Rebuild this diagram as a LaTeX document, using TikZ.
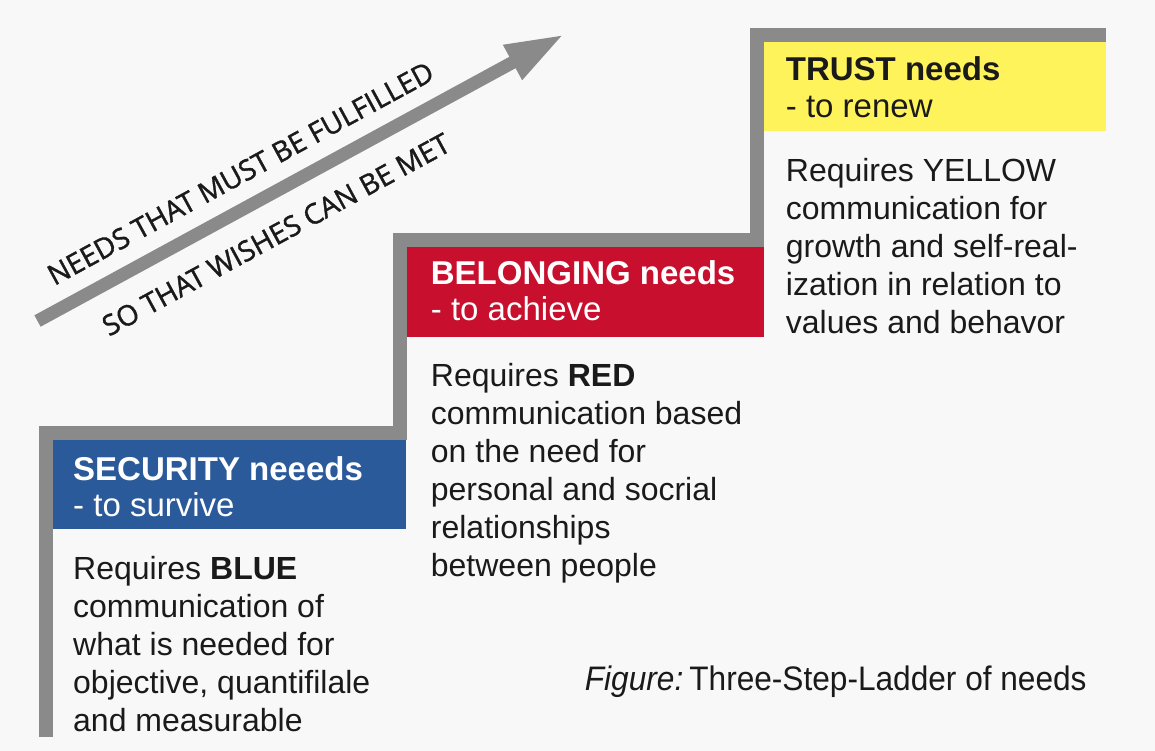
\documentclass[tikz,border=0pt]{standalone}
\usepackage{fontspec}
\usepackage{graphicx}
\setmainfont{Liberation Sans}
\newfontfamily\arrowfont{Open Sans}[FakeBold=1.3]
\usetikzlibrary{arrows.meta}
\definecolor{bg}{HTML}{F8F8F8}
\definecolor{stairgray}{HTML}{8A8A8A}
\definecolor{secblue}{HTML}{2B5A9B}
\definecolor{belred}{HTML}{C8102E}
\definecolor{trustyellow}{HTML}{FFF35C}
\definecolor{ink}{HTML}{1A1A1A}
\newcommand{\stacklines}[1]{\begin{tabular}[t]{@{}l@{}}#1\end{tabular}}
\begin{document}
\begin{tikzpicture}[x=1pt,y=-1pt,
  box/.style={draw=none, inner sep=0pt, outer sep=0pt, anchor=north west},
  header/.style={anchor=base west, inner sep=0pt, font=\fontsize{33}{36.5}\selectfont},
  body/.style={anchor=base west, inner sep=0pt, text=ink, font=\fontsize{32}{38}\selectfont},
  stair/.style={draw=stairgray, line width=14pt, line join=miter, line cap=butt},
  bigarrow/.style={draw=stairgray, line width=13pt, line cap=butt, -{Triangle[length=59pt,width=36pt]}},
  arrowtext/.style={font=\arrowfont\fontsize{28.2}{30}\selectfont, text=ink, rotate=28.55, inner sep=0pt}
]
\useasboundingbox (0,0) rectangle (1155,751);
\fill[bg] (0,0) rectangle (1155,751);

% coloured boxes
\node[box, fill=secblue, minimum width=353pt, minimum height=89pt] (secbox) at (53,440) {};
\node[box, fill=belred, minimum width=357.5pt, minimum height=90.3pt] (belbox) at (406.5,246.7) {};
\node[box, fill=trustyellow, minimum width=342pt, minimum height=89.3pt] (trustbox) at (764,41.7) {};

% staircase
\draw[stair] (45.5,737) -- (45.5,433) -- (399.5,433) -- (399.5,240) -- (756.5,240) -- (756.5,35) -- (1106,35);

% headers
\node[header, text=white] (sechead) at (73,480) {\stacklines{\textbf{SECURITY neeeds}\\- to survive}};
\node[header, text=white] (belhead) at (430.7,284) {\stacklines{\textbf{BELONGING needs}\\- to achieve}};
\node[header, text=ink] (trusthead) at (785.7,80.7) {\stacklines{\textbf{TRUST needs}\\- to renew}};

% bodies
\node[body] (secbody) at (73,579) {\stacklines{Requires \textbf{BLUE}\\communication of\\what is needed for\\objective, quantifilale\\and measurable}};
\node[body] (belbody) at (430.7,386.7) {\stacklines{Requires \textbf{RED}\\communication based\\on the need for\\personal and socrial\\relationships\\between people}};
\node[body] (trustbody) at (785.7,181.7) {\stacklines{Requires YELLOW\\communication for\\growth and self-real-\\ization in relation to\\values and behavor}};

% arrow
\coordinate (tail) at (37.5,321);
\coordinate (tip) at (564.3,34.3);
\draw[bigarrow] (tail) -- (tip);
\node[arrowtext] (uppertext) at (240.5,173.3) {NEEDS THAT MUST BE FULFILLED};
\node[arrowtext] (lowertext) at (276,234.5) {SO THAT WISHES CAN BE MET};

% caption
\node[anchor=base west, inner sep=0pt, text=ink, font=\fontsize{34}{40}\selectfont] (caption) at (584.7,690)
  {\scalebox{0.93}[1]{\textit{Figure:}\hspace{6.5pt}Three-Step-Ladder of needs}};
\end{tikzpicture}
\end{document}
